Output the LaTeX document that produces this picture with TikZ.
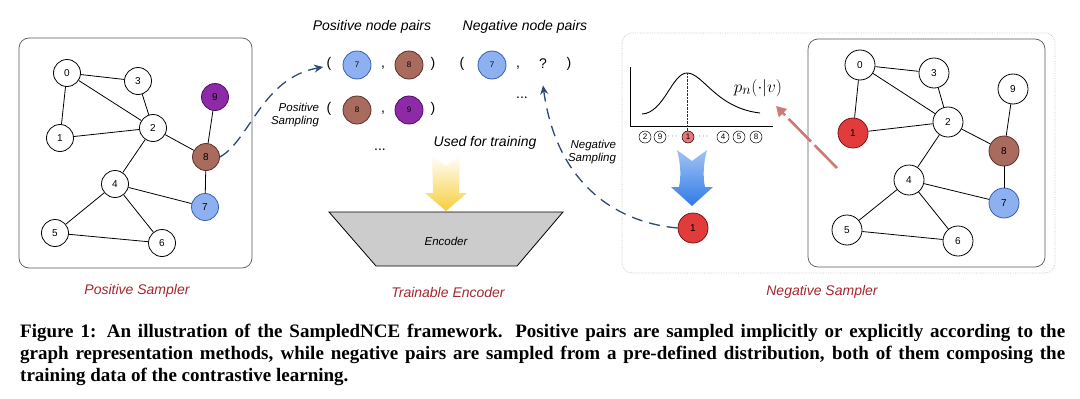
\documentclass[tikz,border=0pt]{standalone}
\usepackage{fontspec}
\setmainfont{Liberation Serif}
\setsansfont{Liberation Sans}
\usepackage{amsmath}
\usepackage{xcolor}
\usetikzlibrary{arrows.meta,shapes,positioning}

\definecolor{darknavy}{HTML}{2E4A72}
\definecolor{samplered}{HTML}{A3262E}
\definecolor{nblue}{HTML}{8DB0F0}
\definecolor{nblueb}{HTML}{3A5FB0}
\definecolor{nbrown}{HTML}{A86B5E}
\definecolor{nbrownb}{HTML}{5A3028}
\definecolor{npurple}{HTML}{8E2AA8}
\definecolor{npurpleb}{HTML}{4A1060}
\definecolor{nred}{HTML}{E23B3B}
\definecolor{nredb}{HTML}{7A1515}
\definecolor{myyellow}{HTML}{F6CE3A}
\definecolor{myblue}{HTML}{2F7BE6}
\definecolor{arrowred}{HTML}{CC7A74}

\tikzset{
  gnode/.style={circle,draw,line width=0.8pt,fill=white,minimum size=27pt,inner sep=0pt,font=\sffamily\fontsize{10}{12}\selectfont},
  wn/.style={fill=white},
  bn/.style={fill=nblue,draw=nblueb},
  brn/.style={fill=nbrown,draw=nbrownb},
  purn/.style={fill=npurple,draw=npurpleb},
  rn/.style={fill=nred,draw=nredb},
  pairnode/.style={gnode,minimum size=28pt,font=\sffamily\fontsize{8}{10}\selectfont},
  lab/.style={font=\sffamily\itshape\fontsize{14}{16}\selectfont},
  smalllab/.style={font=\sffamily\itshape\fontsize{11.5}{13}\selectfont,align=right},
  title/.style={lab,text=samplered},
  sym/.style={font=\sffamily\fontsize{14}{16}\selectfont},
  samp/.style={darknavy,line width=1.3pt,dash pattern=on 11pt off 7pt,-{Stealth[length=9pt,width=8pt]}},
  cnum/.style={circle,draw,line width=0.5pt,minimum size=12pt,inner sep=0pt,font=\sffamily\fontsize{8}{9}\selectfont},
  capline/.style={anchor=base west,inner sep=0pt,font=\bfseries\fontsize{19}{22}\selectfont}
}

\begin{document}
\begin{tikzpicture}[x=1pt,y=-1pt]
\useasboundingbox (0,0) rectangle (1080,399);

\draw[rounded corners=10pt,gray!70!black,line width=0.7pt] (19,38) rectangle (252,268);
\foreach \n/\x/\y/\c in {0/67/73/wn,3/138/81/wn,9/215/97/purn,2/153/128/wn,1/60/138/wn,8/206/157/brn,4/115/184/wn,7/205/207/bn,5/55/233/wn,6/162/243/wn}
  \node[gnode,\c] (l\n) at (\x,\y) {\n};
\foreach \a/\b in {0/3,0/2,0/1,3/2,1/2,2/8,2/4,9/8,8/7,4/7,4/5,4/6,5/6}
  \draw[line width=0.8pt] (l\a)--(l\b);
\node[title] (possampler) at (137,291) {Positive Sampler};

\node[lab] (poshead) at (372,27) {Positive node pairs};
\node[lab] (neghead) at (525,27) {Negative node pairs};
\node[sym] (paL) at (329,64) {(};
\node[pairnode,bn] (pa7) at (357,65) {7};
\node[sym] (paC) at (383,68) {,};
\node[pairnode,brn] (pa8) at (409,65) {8};
\node[sym] (paR) at (433,64) {)};
\node[sym] (pbL) at (329,109) {(};
\node[pairnode,brn] (pb8) at (357,110) {8};
\node[sym] (pbC) at (383,113) {,};
\node[pairnode,purn] (pb9) at (409,110) {9};
\node[sym] (pbR) at (433,109) {)};
\node[sym] (pdots) at (380,150) {...};
\node[sym] (naL) at (462,64) {(};
\node[pairnode,bn] (na7) at (492,65) {7};
\node[sym] (naC) at (518,68) {,};
\node[sym] (q) at (543,64) {?};
\node[sym] (naR) at (569,64) {)};
\node[sym] (ndots) at (522,98) {...};

\draw[samp] (l8.east) .. controls (250,140) and (262,78) .. ([yshift=-3pt]paL.west);
\node[smalllab] (possamp) at (295,115) {Positive\\Sampling};

\node[lab] (used) at (485,143) {Used for training};
\shade[top color=white,bottom color=myyellow] (432,155) -- (446,166) -- (460,155) -- (459,193) -- (467,193) -- (446,211) -- (425,193) -- (433,193) -- cycle;
\draw[fill=gray!40,line width=0.8pt] (329,212) -- (563,212) -- (517,266) -- (376,266) -- cycle;
\node[smalllab] (enc) at (446,241) {Encoder};
\node[title] (trainenc) at (448,292) {Trainable Encoder};

\draw[rounded corners=10pt,gray!45,densely dotted,line width=0.7pt] (622,33) rectangle (1055,273);
\draw[rounded corners=10pt,gray!70!black,line width=0.7pt] (808,39) rectangle (1045,267);
\foreach \n/\x/\y/\c in {0/860/65/wn,3/934/73/wn,9/1013/89/wn,2/948/122/wn,1/853/133/rn,8/1004/151/brn,4/909/180/wn,7/1004/203/bn,5/847/230/wn,6/958/241/wn}
  \node[gnode,minimum size=30pt,\c] (r\n) at (\x,\y) {\n};
\foreach \a/\b in {0/3,0/2,0/1,3/2,1/2,2/8,2/4,9/8,8/7,4/7,4/5,4/6,5/6}
  \draw[line width=0.8pt] (r\a)--(r\b);

\draw[line width=1pt] (630,67) -- (630,126) -- (773,126);
\draw[line width=0.9pt] (642,114) .. controls (664,113) and (672,73) .. (687,73) .. controls (703,73) and (716,108) .. (760,113);
\draw[densely dotted,red!60!black] (687,73) -- (687,131);
\node[font=\fontsize{19}{22}\selectfont] (pn) at (758,88) {$p_n(\cdot|v)$};
\foreach \t/\x in {2/645,9/660,4/723,5/739,8/756}
  \node[cnum] (c\t) at (\x,137) {\t};
\node[cnum,fill=nred!70] (c1) at (688,137) {1};
\node[font=\fontsize{8}{9}\selectfont] (cdotsa) at (673,137) {$\cdots$};
\node[font=\fontsize{8}{9}\selectfont] (cdotsb) at (704,137) {$\cdots$};
\coordinate (redstart) at (837,168);
\coordinate (redend) at (776,106);
\draw[arrowred,line width=2.6pt,dash pattern=on 32pt off 5pt,-{Triangle[length=10pt,width=11pt]}] (redstart) -- (redend);

\shade[top color=myblue!45,bottom color=myblue] (677,150) -- (692,161) -- (707,150) .. controls (703,165) and (703,178) .. (705,187) -- (713,187) -- (692,206) -- (671,187) -- (679,187) .. controls (681,178) and (681,165) .. (677,150) -- cycle;
\node[gnode,rn,minimum size=30pt] (neg1) at (693,228) {1};
\draw[samp] (neg1.west) .. controls (612,222) and (556,180) .. ([yshift=-13pt]q.south);
\node[smalllab] (negsamp) at (592,152) {Negative\\Sampling};
\node[title] (negsampler) at (822,292) {Negative Sampler};

\node[capline] (cap1) at (20,337) {\makebox[1045pt][s]{Figure 1: An illustration of the SampledNCE framework. Positive pairs are sampled implicitly or explicitly according to the}};
\node[capline] (cap2) at (20,359) {\makebox[1045pt][s]{graph representation methods, while negative pairs are sampled from a pre-defined distribution, both of them composing the}};
\node[capline] (cap3) at (20,381) {training data of the contrastive learning.};
\end{tikzpicture}
\end{document}
